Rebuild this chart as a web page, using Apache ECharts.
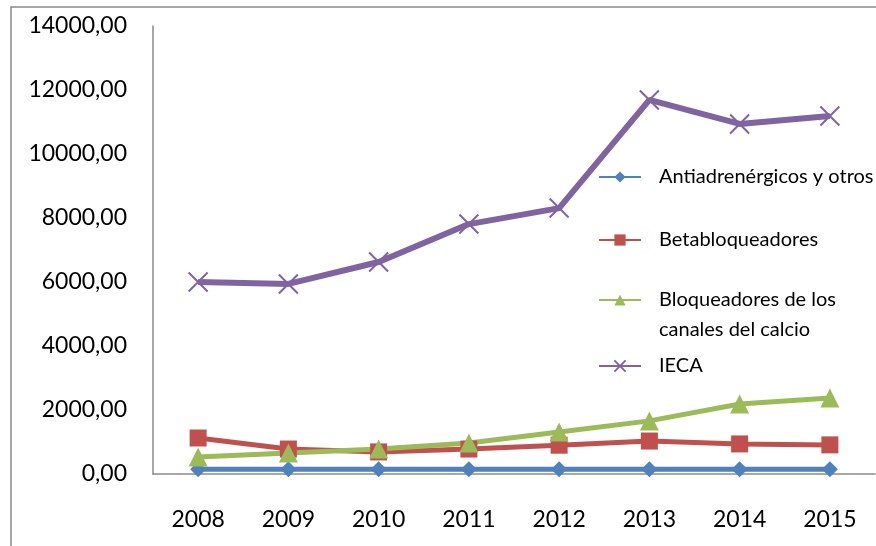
<!DOCTYPE html>
<html>
<head>
<meta charset="utf-8">
<script src="https://cdn.jsdelivr.net/npm/echarts@6/dist/echarts.min.js"></script>
<style>
  html, body { margin: 0; padding: 0; background: #fff; }
  #chart { width: 876px; height: 546px; }
</style>
</head>
<body>
<div id="chart"></div>
<script>
// datos
const years = ["2008", "2009", "2010", "2011", "2012", "2013", "2014", "2015"];
const antiadrenergicos = [150, 150, 150, 150, 150, 150, 150, 150];
const betabloqueadores = [1125, 780, 690, 780, 900, 1030, 940, 910];
const bloqueadoresCalcio = [530, 660, 780, 970, 1310, 1660, 2190, 2375];
const ieca = [6000, 5940, 6625, 7810, 8310, 11690, 10940, 11190];
const yTicks = [0, 2000, 4000, 6000, 8000, 10000, 12000, 14000];

const names = ["Antiadrenérgicos y otros", "Betabloqueadores", "Bloqueadores de los canales del calcio", "IECA"];
const colors = ["#4F81BD", "#C0504D", "#9BBB59", "#8064A2"];
const FONT = "Lato";

const crossPath = "path://M0,0L10,10M10,0L0,10";

const chart = echarts.init(document.getElementById("chart"));

const legendBase = {
  orient: "vertical",
  left: 593,
  itemWidth: 42,
  itemHeight: 14,
  itemGap: 0,
  lineStyle: { width: 2 },
  textStyle: { fontFamily: FONT, fontSize: 20, color: "#000", lineHeight: 30, padding: [0, 0, 0, 13] },
  selectedMode: false
};

chart.setOption({
  animation: false,
  color: colors,
  graphic: [{
    type: "rect",
    shape: { x: 11, y: 7, width: 1000, height: 800 },
    style: { fill: "none", stroke: "#8a8a8a", lineWidth: 1.5 },
    silent: true
  }],
  grid: { left: 153, top: 26, right: 1, bottom: 72 },
  legend: [
    Object.assign({}, legendBase, { data: [names[0]], top: 157 }),
    Object.assign({}, legendBase, { data: [names[1]], top: 220 }),
    Object.assign({}, legendBase, {
      data: [names[2]], top: 250,
      // linea vacia arriba para que el icono quede en la primera linea
      formatter: () => " \nBloqueadores de los\ncanales del calcio"
    }),
    Object.assign({}, legendBase, { data: [names[3]], top: 346 })
  ],
  xAxis: {
    type: "category",
    data: years,
    boundaryGap: true,
    axisLine: { lineStyle: { color: "#8a8a8a", width: 1.5 } },
    axisTick: { show: false },
    axisLabel: { margin: 34, fontFamily: FONT, fontSize: 23, color: "#000" }
  },
  yAxis: {
    type: "value",
    min: 0,
    max: 14000,
    interval: 2000,
    axisLine: { show: true, lineStyle: { color: "#8a8a8a", width: 1.5 } },
    axisTick: { show: false },
    splitLine: { show: false },
    axisLabel: {
      margin: 26, fontFamily: FONT, fontSize: 23, color: "#000",
      formatter: v => yTicks.includes(v) ? v.toFixed(2).replace(".", ",") : ""
    }
  },
  series: [
    {
      name: names[0], type: "line", data: antiadrenergicos,
      symbol: "diamond", symbolSize: 16,
      lineStyle: { width: 5, color: colors[0] },
      itemStyle: { color: colors[0] }
    },
    {
      name: names[1], type: "line", data: betabloqueadores,
      symbol: "rect", symbolSize: 17,
      lineStyle: { width: 5, color: colors[1] },
      itemStyle: { color: colors[1] }
    },
    {
      name: names[2], type: "line", data: bloqueadoresCalcio,
      symbol: "triangle", symbolSize: 19,
      lineStyle: { width: 5, color: colors[2] },
      itemStyle: { color: colors[2] }
    },
    {
      name: names[3], type: "line", data: ieca,
      symbol: crossPath, symbolSize: 19,
      lineStyle: { width: 6, color: colors[3] },
      itemStyle: { color: "rgba(0,0,0,0)", borderColor: colors[3], borderWidth: 2 }
    }
  ]
});
</script>
</body>
</html>
